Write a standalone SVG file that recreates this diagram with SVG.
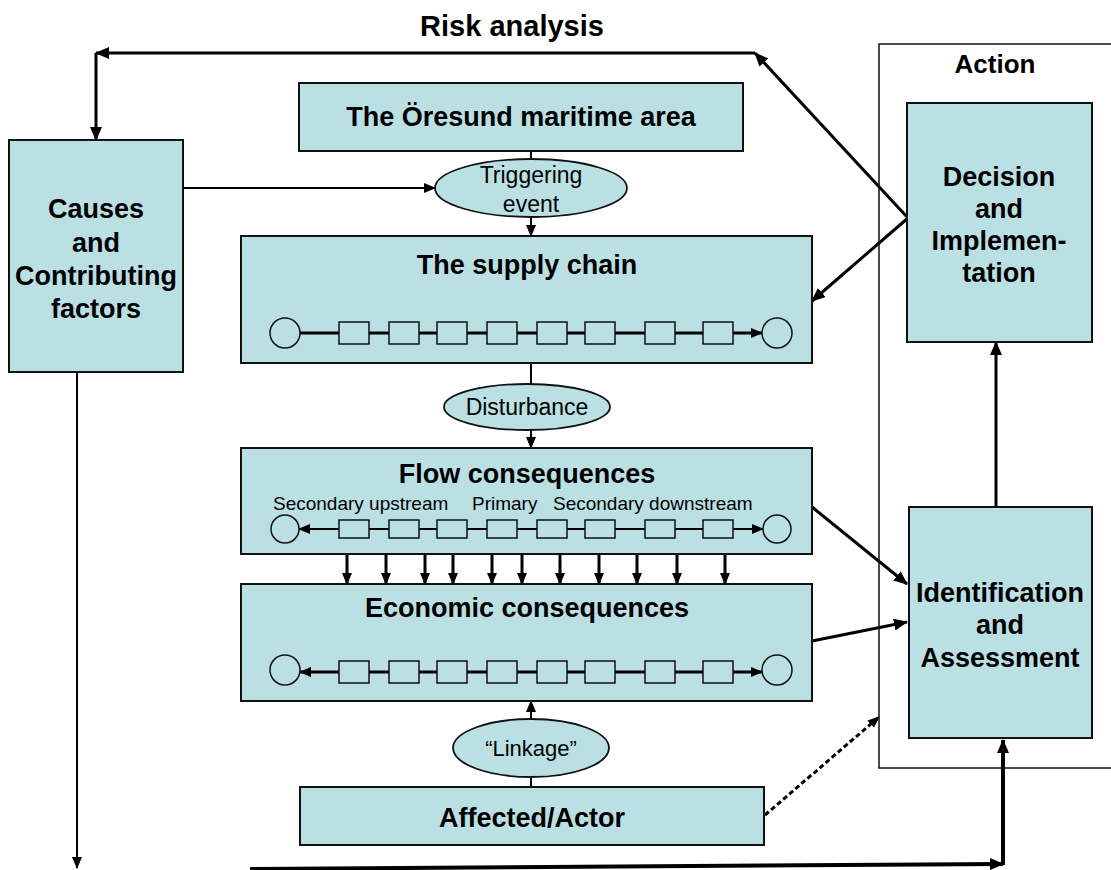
<svg xmlns="http://www.w3.org/2000/svg" width="1111" height="870" viewBox="0 0 1111 870">
<defs>
<style>
.box{fill:#BBE0E3;stroke:#111;stroke-width:2}
.ell{fill:#BBE0E3;stroke:#111;stroke-width:1.8}
.cont{fill:none;stroke:#111;stroke-width:1.5}
.cr{fill:#BBE0E3;stroke:#111;stroke-width:1.5}
.b{font-family:"Liberation Sans",Arial,sans-serif;font-weight:bold;font-size:27px;fill:#000;text-anchor:middle}
.n{font-family:"Liberation Sans",Arial,sans-serif;font-size:23px;fill:#000;text-anchor:middle}
.s{font-family:"Liberation Sans",Arial,sans-serif;font-size:19px;fill:#000}
.c{fill:none;stroke:#000;stroke-width:3}
.t{fill:none;stroke:#000;stroke-width:2}
</style>
<marker id="ah" markerUnits="userSpaceOnUse" markerWidth="14" markerHeight="12" refX="13" refY="6" orient="auto-start-reverse"><path d="M0,0 L14,6 L0,12 z" fill="#000"/></marker>
<marker id="as" markerUnits="userSpaceOnUse" markerWidth="12" markerHeight="10" refX="11" refY="5" orient="auto-start-reverse"><path d="M0,0 L12,5 L0,10 z" fill="#000"/></marker>
</defs>

<text class="b" x="512" y="36" style="font-size:29px">Risk analysis</text>

<g id="connectors">
<path class="c" d="M755,53 L96,53" marker-end="url(#ah)"/>
<path class="c" d="M96,53 L96,140" marker-end="url(#ah)"/>
<path class="c" d="M908,218 L755,53" marker-end="url(#ah)"/>
<path class="c" d="M908,218 L812,301" marker-end="url(#ah)"/>
<path class="t" d="M183,188 L435,188" marker-end="url(#as)"/>
<path class="t" d="M531,151 L531,159"/>
<path class="t" d="M531,217 L531,236" marker-end="url(#as)"/>
<path class="t" d="M531,363 L531,385"/>
<path class="t" d="M531,430 L531,448" marker-end="url(#as)"/>
<g>
<path class="c" d="M347,554 L347,584" marker-end="url(#as)"/>
<path class="c" d="M386,554 L386,584" marker-end="url(#as)"/>
<path class="c" d="M425,554 L425,584" marker-end="url(#as)"/>
<path class="c" d="M453,554 L453,584" marker-end="url(#as)"/>
<path class="c" d="M492,554 L492,584" marker-end="url(#as)"/>
<path class="c" d="M522,554 L522,584" marker-end="url(#as)"/>
<path class="c" d="M560,554 L560,584" marker-end="url(#as)"/>
<path class="c" d="M599,554 L599,584" marker-end="url(#as)"/>
<path class="c" d="M637,554 L637,584" marker-end="url(#as)"/>
<path class="c" d="M677,554 L677,584" marker-end="url(#as)"/>
<path class="c" d="M725,554 L725,584" marker-end="url(#as)"/>
</g>
<path class="c" d="M812,507 L907,584" marker-end="url(#ah)"/>
<path class="c" d="M812,641 L907,622" marker-end="url(#ah)"/>
<path class="c" d="M996,507 L996,342" marker-end="url(#ah)"/>
<path class="t" d="M531,719 L531,701" marker-end="url(#as)"/>
<path class="t" d="M531,787 L531,777"/>
<path class="c" d="M765,815 L879,717" stroke-dasharray="5,3" marker-end="url(#as)"/>
<path class="t" d="M77,372 L77,868" marker-end="url(#as)"/>
<path d="M250,869 L1003,864" fill="none" stroke="#000" stroke-width="4" marker-end="url(#ah)"/>
<path d="M1003,865 L1003,740" fill="none" stroke="#000" stroke-width="4" marker-end="url(#ah)"/>
</g>

<g id="action">
<rect class="cont" x="879" y="44" width="250" height="724"/>
<text class="b" x="995" y="73" style="font-size:26px">Action</text>
</g>

<g id="causes">
<rect class="box" x="9" y="140" width="174" height="232"/>
<text class="b" x="96" y="218">Causes</text>
<text class="b" x="96" y="252">and</text>
<text class="b" x="96" y="285">Contributing</text>
<text class="b" x="96" y="318">factors</text>
</g>

<g id="oresund">
<rect class="box" x="299" y="83" width="444" height="68"/>
<text class="b" x="521" y="126">The Öresund maritime area</text>
</g>

<g id="triggering">
<ellipse class="ell" cx="531" cy="188" rx="96" ry="29"/>
<text class="n" x="531" y="183">Triggering</text>
<text class="n" x="531" y="212">event</text>
</g>

<g id="supply">
<rect class="box" x="241" y="236" width="571" height="127"/>
<text class="b" x="527" y="274">The supply chain</text>
<path class="c" d="M300,333 L762,333" marker-end="url(#as)"/>
<rect class="cr" x="339" y="322" width="30" height="22"/>
<rect class="cr" x="389" y="322" width="30" height="22"/>
<rect class="cr" x="437" y="322" width="30" height="22"/>
<rect class="cr" x="487" y="322" width="30" height="22"/>
<rect class="cr" x="537" y="322" width="30" height="22"/>
<rect class="cr" x="585" y="322" width="30" height="22"/>
<rect class="cr" x="645" y="322" width="30" height="22"/>
<rect class="cr" x="703" y="322" width="30" height="22"/>
<circle class="cr" cx="285" cy="333" r="15"/>
<circle class="cr" cx="777" cy="333" r="15"/>
</g>

<g id="disturbance">
<ellipse class="ell" cx="527" cy="407" rx="83" ry="23"/>
<text class="n" x="527" y="415">Disturbance</text>
</g>

<g id="flow">
<rect class="box" x="241" y="448" width="571" height="106"/>
<text class="b" x="527" y="483">Flow consequences</text>
<text class="s" x="273" y="510">Secondary upstream</text>
<text class="s" x="472" y="510">Primary</text>
<text class="s" x="553" y="510">Secondary downstream</text>
<path class="t" d="M299,529 L763,529" marker-start="url(#as)" marker-end="url(#as)"/>
<rect class="cr" x="339" y="520" width="30" height="18"/>
<rect class="cr" x="389" y="520" width="30" height="18"/>
<rect class="cr" x="437" y="520" width="30" height="18"/>
<rect class="cr" x="487" y="520" width="30" height="18"/>
<rect class="cr" x="537" y="520" width="30" height="18"/>
<rect class="cr" x="585" y="520" width="30" height="18"/>
<rect class="cr" x="645" y="520" width="30" height="18"/>
<rect class="cr" x="703" y="520" width="30" height="18"/>
<circle class="cr" cx="285" cy="529" r="14"/>
<circle class="cr" cx="777" cy="529" r="14"/>
</g>

<g id="economic">
<rect class="box" x="241" y="584" width="571" height="117"/>
<text class="b" x="527" y="617">Economic consequences</text>
<path class="c" d="M300,672 L762,672" marker-start="url(#as)" marker-end="url(#as)"/>
<rect class="cr" x="339" y="661" width="30" height="22"/>
<rect class="cr" x="389" y="661" width="30" height="22"/>
<rect class="cr" x="437" y="661" width="30" height="22"/>
<rect class="cr" x="487" y="661" width="30" height="22"/>
<rect class="cr" x="537" y="661" width="30" height="22"/>
<rect class="cr" x="585" y="661" width="30" height="22"/>
<rect class="cr" x="645" y="661" width="30" height="22"/>
<rect class="cr" x="703" y="661" width="30" height="22"/>
<circle class="cr" cx="285" cy="670" r="15"/>
<circle class="cr" cx="777" cy="670" r="15"/>
</g>

<g id="linkage">
<ellipse class="ell" cx="531" cy="748" rx="78" ry="29"/>
<text class="n" x="531" y="756" style="font-size:22px">“Linkage”</text>
</g>

<g id="affected">
<rect class="box" x="300" y="787" width="464" height="58"/>
<text class="b" x="532" y="827">Affected/Actor</text>
</g>

<g id="decision">
<rect class="box" x="907" y="103" width="185" height="239"/>
<text class="b" x="999" y="186">Decision</text>
<text class="b" x="999" y="218">and</text>
<text class="b" x="999" y="250">Implemen-</text>
<text class="b" x="999" y="282">tation</text>
</g>

<g id="identification">
<rect class="box" x="909" y="507" width="183" height="231"/>
<text class="b" x="1000" y="602">Identification</text>
<text class="b" x="1000" y="634">and</text>
<text class="b" x="1000" y="667">Assessment</text>
</g>
</svg>
